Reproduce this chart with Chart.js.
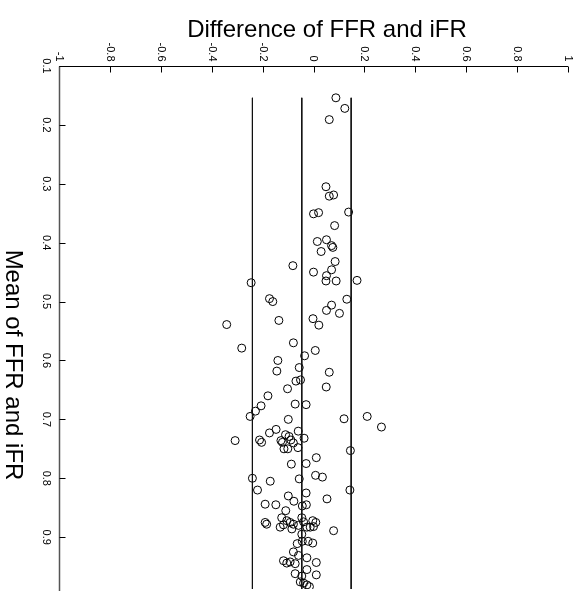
<!DOCTYPE html>
<html>
<head>
<meta charset="utf-8">
<script src="https://cdn.jsdelivr.net/npm/chart.js@4"></script>
<style>
  html, body { margin: 0; padding: 0; background: #fff; }
  #wrap { width: 581px; height: 594px; }
</style>
</head>
<body>
<div id="wrap"><canvas id="baChart" width="581" height="594"></canvas></div>
<script>
// Bland-Altman: mean of FFR and iFR (vertical, downwards) vs difference (horizontal)
const meanVals = [
  0.154, 0.172, 0.191, 0.305, 0.321, 0.319, 0.351, 0.349, 0.348, 0.371,
  0.398, 0.395, 0.405, 0.408, 0.415, 0.432, 0.439, 0.450, 0.446, 0.456,
  0.465, 0.465, 0.464, 0.468, 0.496, 0.495, 0.500, 0.506, 0.515, 0.520,
  0.532, 0.529, 0.539, 0.540, 0.570, 0.579, 0.583, 0.592, 0.600, 0.612,
  0.618, 0.620, 0.635, 0.633, 0.645, 0.648, 0.660, 0.674, 0.675, 0.677,
  0.686, 0.695, 0.700, 0.699, 0.695, 0.713, 0.717, 0.723, 0.720, 0.726,
  0.729, 0.736, 0.735, 0.739, 0.736, 0.739, 0.735, 0.732, 0.740, 0.750,
  0.750, 0.748, 0.753, 0.765, 0.775, 0.776, 0.800, 0.805, 0.801, 0.795,
  0.798, 0.820, 0.820, 0.825, 0.830, 0.835, 0.839, 0.844, 0.845, 0.847,
  0.845, 0.855,
  0.875, 0.878, 0.867, 0.872, 0.875, 0.883, 0.879, 0.878, 0.886, 0.867,
  0.874, 0.880, 0.883, 0.872, 0.875, 0.883, 0.882, 0.889, 0.895, 0.911,
  0.907, 0.907, 0.910, 0.925, 0.931, 0.935, 0.940, 0.944, 0.942, 0.945,
  0.943, 0.955, 0.962, 0.964, 0.966, 0.976, 0.978, 0.981, 0.984
];
const diffVals = [
  0.088, 0.123, 0.062, 0.049, 0.062, 0.079, 0.000, 0.020, 0.138, 0.083,
  0.015, 0.051, 0.071, 0.076, 0.030, 0.085, -0.081, 0.000, 0.071, 0.051,
  0.049, 0.089, 0.171, -0.245, 0.131, -0.173, -0.160, 0.071, 0.051, 0.102,
  -0.136, -0.002, -0.341, 0.021, -0.079, -0.282, 0.007, -0.035, -0.140, -0.056,
  -0.144, 0.062, -0.069, -0.051, 0.050, -0.102, -0.179, -0.072, -0.029, -0.206,
  -0.228, -0.249, -0.099, 0.120, 0.211, 0.267, -0.147, -0.173, -0.060, -0.110,
  -0.096, -0.308, -0.212, -0.204, -0.128, -0.122, -0.089, -0.037, -0.079, -0.116,
  -0.101, -0.061, 0.145, 0.011, -0.029, -0.087, -0.240, -0.170, -0.056, 0.008,
  0.035, -0.220, 0.143, -0.029, -0.099, 0.053, -0.077, -0.190, -0.148, -0.044,
  -0.028, -0.109,
  -0.190, -0.184, -0.125, -0.105, -0.092, -0.131, -0.118, -0.079, -0.085, -0.046,
  -0.039, -0.059, -0.026, -0.003, 0.009, -0.013, 0.000, 0.079, -0.046, -0.064,
  -0.044, -0.021, -0.003, -0.079, -0.059, -0.026, -0.118, -0.105, -0.092, -0.072,
  0.011, -0.026, -0.072, 0.011, -0.046, -0.052, -0.039, -0.026, -0.016
];

// bias and limits of agreement
const meanDiff = -0.046;
const lowerLoA = -0.240;
const upperLoA = 0.148;
const lineSpan = [0.154, 0.995];

const xTicks = [-1, -0.8, -0.6, -0.4, -0.2, 0, 0.2, 0.4, 0.6, 0.8, 1];
const xTickLabels = ["-1", "-0.8", "-0.6", "-0.4", "-0.2", "0", "0.2", "0.4", "0.6", "0.8", "1"];
const yTicks = [0.1, 0.2, 0.3, 0.4, 0.5, 0.6, 0.7, 0.8, 0.9];
const yTickLabels = ["0.1", "0.2", "0.3", "0.4", "0.5", "0.6", "0.7", "0.8", "0.9"];

const FONT = "Liberation Sans, Arial, sans-serif";

const points = meanVals.map((m, i) => ({ x: diffVals[i], y: m }));
const vline = (v) => lineSpan.map((m) => ({ x: v, y: m }));

// axes, ticks and rotated labels drawn by hand (everything turned 90deg clockwise)
const rotatedAxes = {
    id: "rotatedAxes",
    afterDraw(chart) {
        const ctx = chart.ctx;
        const xs = chart.scales.x;
        const ys = chart.scales.y;
        const area = chart.chartArea;
        const top = Math.round(ys.getPixelForValue(0.1)) + 0.5;
        const left = Math.round(xs.getPixelForValue(-1)) + 0.5;

        ctx.save();
        ctx.strokeStyle = "#000";
        ctx.lineWidth = 1;

        // top axis
        ctx.beginPath();
        ctx.moveTo(xs.getPixelForValue(-1), top);
        ctx.lineTo(xs.getPixelForValue(1), top);
        ctx.stroke();
        xTicks.forEach((v) => {
            const px = Math.round(xs.getPixelForValue(v)) + 0.5;
            ctx.beginPath();
            ctx.moveTo(px, top);
            ctx.lineTo(px, top + 6);
            ctx.stroke();
        });

        // left axis
        ctx.strokeStyle = "#555";
        ctx.lineWidth = 1.5;
        ctx.beginPath();
        ctx.moveTo(left, top);
        ctx.lineTo(left, area.bottom + 2);
        ctx.stroke();
        ctx.lineWidth = 1;
        ctx.strokeStyle = "#000";
        yTicks.forEach((v) => {
            const py = Math.round(ys.getPixelForValue(v)) + 0.5;
            ctx.beginPath();
            ctx.moveTo(left, py);
            ctx.lineTo(left + 6, py);
            ctx.stroke();
        });

        ctx.fillStyle = "#000";
        ctx.font = "11px " + FONT;
        ctx.textBaseline = "middle";

        xTicks.forEach((v, i) => {
            ctx.save();
            ctx.translate(xs.getPixelForValue(v), top - 5);
            ctx.rotate(Math.PI / 2);
            ctx.textAlign = "right";
            ctx.fillText(xTickLabels[i], 0, 0);
            ctx.restore();
        });

        yTicks.forEach((v, i) => {
            ctx.save();
            ctx.translate(46, ys.getPixelForValue(v));
            ctx.rotate(Math.PI / 2);
            ctx.textAlign = "center";
            ctx.fillText(yTickLabels[i], 0, 0);
            ctx.restore();
        });

        // axis titles
        ctx.font = "24px " + FONT;
        ctx.textBaseline = "alphabetic";
        ctx.textAlign = "center";
        ctx.fillText("Difference of FFR and iFR", 327, 37);

        ctx.save();
        ctx.translate(6, 365);
        ctx.rotate(Math.PI / 2);
        ctx.fillText("Mean of FFR and iFR", 0, 0);
        ctx.restore();

        ctx.restore();
    },
};

const lineStyle = { showLine: true, pointRadius: 0, borderColor: "#111", borderWidth: 1, fill: false };

new Chart(document.getElementById("baChart"), {
    type: "scatter",
    data: {
        datasets: [
            { label: "Lower LoA", data: vline(lowerLoA), ...lineStyle },
            { label: "Mean difference", data: vline(meanDiff), ...lineStyle },
            { label: "Upper LoA", data: vline(upperLoA), ...lineStyle },
            {
                label: "Cases",
                data: points,
                pointStyle: "circle",
                pointRadius: 4,
                pointBorderWidth: 1,
                pointBorderColor: "#000",
                pointBackgroundColor: "rgba(0,0,0,0)",
                pointHoverRadius: 4,
            },
        ],
    },
    options: {
        responsive: false,
        animation: false,
        devicePixelRatio: 1,
        layout: { padding: { left: 59, top: 66, right: 13, bottom: 0 } },
        plugins: {
            legend: { display: false },
            tooltip: { enabled: false },
        },
        scales: {
            x: { type: "linear", min: -1, max: 1, display: false },
            y: { type: "linear", min: 0.1, max: 0.988, reverse: true, display: false },
        },
    },
    plugins: [rotatedAxes],
});
</script>
</body>
</html>
